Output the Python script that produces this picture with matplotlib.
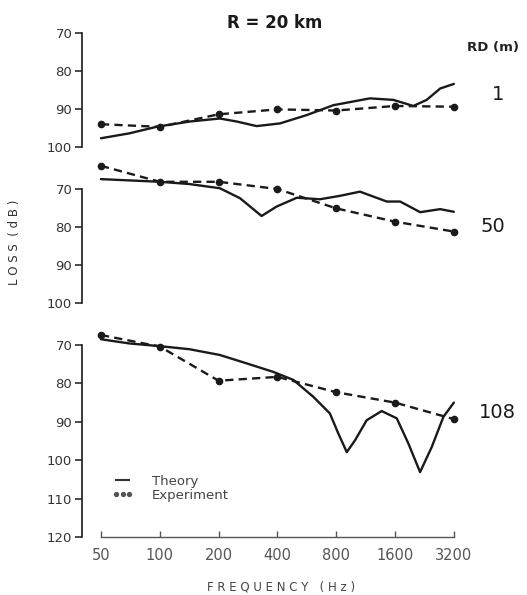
import matplotlib
matplotlib.use("Agg")
import matplotlib.pyplot as plt
from matplotlib.lines import Line2D
from matplotlib.ticker import FixedLocator, NullLocator

# octave band centres (Hz)
freq = [50, 100, 200, 400, 800, 1600, 3200]
xtick_labels = ["50", "100", "200", "400", "800", "1600", "3200"]

# RD = 1 m
exp_1 = [94.0, 94.7, 91.4, 90.1, 90.4, 89.2, 89.4]
th_f_1 = [50, 70, 96, 142, 203, 248, 313, 412, 565, 773, 1190, 1568, 1985, 2323, 2725, 3200]
th_1 = [97.7, 96.4, 94.7, 93.3, 92.5, 93.3, 94.5, 93.8, 91.6, 89.0, 87.2, 87.6, 89.2, 87.6, 84.6, 83.4]

# RD = 50 m
exp_50 = [63.9, 68.1, 68.1, 70.0, 75.1, 78.6, 81.2]
th_f_50 = [50, 100, 142, 203, 257, 332, 397, 503, 660, 836, 1058, 1452, 1700, 2150, 2725, 3200]
th_50 = [67.4, 68.1, 68.7, 69.8, 72.4, 77.1, 74.6, 72.3, 72.7, 71.8, 70.7, 73.3, 73.3, 76.1, 75.3, 76.0]

# RD = 108 m
exp_108 = [67.4, 70.4, 79.3, 78.3, 82.3, 85.0, 89.3]
th_f_108 = [50, 70, 100, 142, 203, 279, 381, 483, 611, 742, 821, 906, 999, 1145, 1367,
            1633, 1874, 2149, 2464, 2830, 3200]
th_108 = [68.5, 69.6, 70.3, 71.1, 72.6, 74.8, 77.0, 79.1, 83.5, 87.8, 93.1, 97.9, 94.8, 89.6, 87.2,
          89.1, 95.7, 103.1, 96.6, 88.7, 85.0]

W, H = 527, 595
fig = plt.figure(figsize=(W / 100, H / 100), dpi=100)

x_left, x_right = 82, 460
ink = "#1a1a1a"


def make_panel(top_px, bot_px, ymax, yticks):
    ax = fig.add_axes([x_left / W, 1 - bot_px / H, (x_right - x_left) / W, (bot_px - top_px) / H])
    ax.set_xscale("log")
    ax.set_xlim(40.0, 3440)
    ax.set_ylim(ymax, 70)
    ax.patch.set_alpha(0)
    for s in ("top", "right", "bottom"):
        ax.spines[s].set_visible(False)
    ax.spines["left"].set_linewidth(1.2)
    ax.spines["left"].set_color(ink)
    ax.yaxis.set_major_locator(FixedLocator(yticks))
    ax.yaxis.set_minor_locator(NullLocator())
    ax.tick_params(axis="y", direction="out", length=5, width=1.1, color=ink,
                   labelsize=9.5, labelcolor="#333333", pad=2)
    ax.xaxis.set_major_locator(NullLocator())
    ax.xaxis.set_minor_locator(NullLocator())
    return ax


def draw(ax, tf, tv, ev):
    ax.plot(tf, tv, color=ink, lw=1.7, clip_on=False, solid_capstyle="round")
    ax.plot(freq, ev, color=ink, lw=1.7, ls="--", dashes=(3.5, 2.2), marker="o", ms=4.5,
            clip_on=False)


ax1 = make_panel(33, 147, 100, [70, 80, 90, 100])
ax2 = make_panel(189, 303, 100, [70, 80, 90, 100])
ax3 = make_panel(345, 537, 120, [70, 80, 90, 100, 110, 120])

draw(ax1, th_f_1, th_1, exp_1)
draw(ax2, th_f_50, th_50, exp_50)
draw(ax3, th_f_108, th_108, exp_108)

# frequency axis on the bottom panel only
ax3.spines["bottom"].set_visible(True)
ax3.spines["bottom"].set_bounds(50, 3200)
ax3.spines["bottom"].set_color("#555555")
ax3.spines["bottom"].set_linewidth(1.0)
ax3.xaxis.set_major_locator(FixedLocator(freq))
ax3.set_xticklabels(xtick_labels)
ax3.tick_params(axis="x", direction="in", length=4, width=1, color="#555555",
                labelsize=10.5, labelcolor="#555555", pad=8)

handles = [Line2D([], [], color="#333333", lw=1.5),
           Line2D([], [], color="#555555", ls="none", marker="o", ms=2.8)]
leg = ax3.legend(handles, ["Theory", "Experiment"], loc="upper left",
                 bbox_to_anchor=(112 / W, 1 - 475 / H), bbox_transform=fig.transFigure,
                 frameon=False, fontsize=9.5, borderpad=0, borderaxespad=0,
                 handlelength=1.6, handletextpad=1.4, labelspacing=0.05, numpoints=3)
for t in leg.get_texts():
    t.set_color("#444444")


def ftext(x, y, s, **kw):
    fig.text(x / W, 1 - y / H, s, ha="center", va="center", **kw)


ftext(275, 23, "R = 20 km", fontsize=12, fontweight="bold", color=ink)
ftext(493, 48, "RD (m)", fontsize=9.5, fontweight="semibold", color="#222222")
ftext(498, 95, "1", fontsize=14, color=ink)
ftext(493, 227, "50", fontsize=14, color=ink)
ftext(497, 413, "108", fontsize=14, color=ink)
ftext(15, 242, "L O S S  ( d B )", fontsize=8.5, rotation=90, color="#333333")
ftext(281, 587, "F R E Q U E N C Y   ( H z )", fontsize=8.5, color="#444444")

fig.savefig("out.png", dpi=100)
